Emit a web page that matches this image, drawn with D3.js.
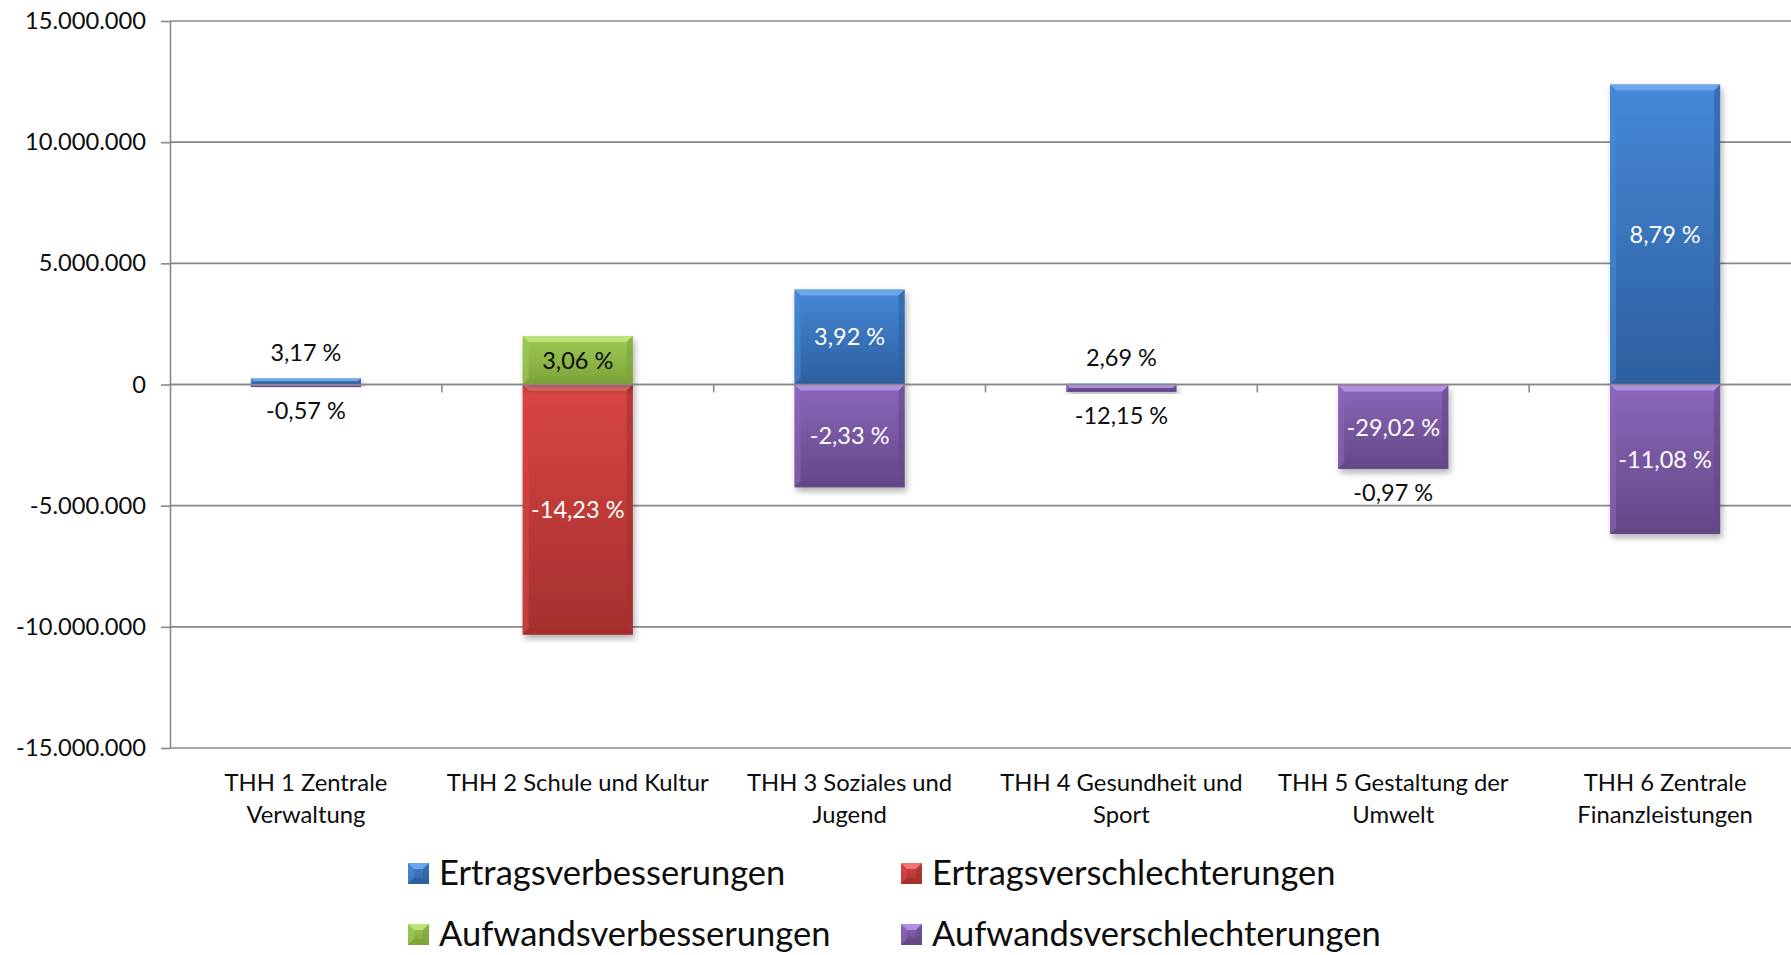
<!DOCTYPE html>
<html>
<head>
<meta charset="utf-8">
<script src="https://cdn.jsdelivr.net/npm/d3@7"></script>
<style>
    body { margin: 0; background: #fff; overflow: hidden; }
    svg text { font-family: Lato, "Open Sans", sans-serif; fill: #0d0d0d; }
</style>
</head>
<body>
<div id="chart_div"></div>
<script>
// categories (x axis) and their wrapped tick labels
var categories = ['THH 1', 'THH 2', 'THH 3', 'THH 4', 'THH 5', 'THH 6'];
var category_lines = [
    ['THH 1 Zentrale', 'Verwaltung'],
    ['THH 2 Schule und Kultur'],
    ['THH 3 Soziales und', 'Jugend'],
    ['THH 4 Gesundheit und', 'Sport'],
    ['THH 5 Gestaltung der', 'Umwelt'],
    ['THH 6 Zentrale', 'Finanzleistungen']
];

var series_names = ['Ertragsverbesserungen', 'Ertragsverschlechterungen', 'Aufwandsverbesserungen', 'Aufwandsverschlechterungen'];

// values in EUR
var ertragsverbesserungen = [250000, 0, 3920000, 30000, 0, 12380000];
var ertragsverschlechterungen = [0, -10320000, 0, 0, -40000, 0];
var aufwandsverbesserungen = [0, 2000000, 0, 0, 0, 0];
var aufwandsverschlechterungen = [-100000, 0, -4240000, -300000, -3440000, -6170000];

// percentage data labels
var ertragsverbesserungen_labels = ['3,17 %', null, '3,92 %', '2,69 %', null, '8,79 %'];
var ertragsverschlechterungen_labels = [null, '-14,23 %', null, null, '-0,97 %', null];
var aufwandsverbesserungen_labels = [null, '3,06 %', null, null, null, null];
var aufwandsverschlechterungen_labels = ['-0,57 %', null, '-2,33 %', '-12,15 %', '-29,02 %', '-11,08 %'];

var y_ticks = [-15000000, -10000000, -5000000, 0, 5000000, 10000000, 15000000];

function draw_chart() {
    var width = 1791, height = 955;
    var plot = {left: 170, right: 1801, top: 21, bottom: 748};

    var series_values = [ertragsverbesserungen, ertragsverschlechterungen, aufwandsverbesserungen, aufwandsverschlechterungen];
    var series_labels = [ertragsverbesserungen_labels, ertragsverschlechterungen_labels, aufwandsverbesserungen_labels, aufwandsverschlechterungen_labels];

    var colors = [
        {light: '#6fabf0', top: '#4688d6', bottom: '#2d5f9f', label: '#fff'},
        {light: '#f27b78', top: '#d94543', bottom: '#a4302e', label: '#fff'},
        {light: '#c3e67f', top: '#9ccb52', bottom: '#7da33a', label: '#0d0d0d'},
        {light: '#b693e6', top: '#8a67bb', bottom: '#644786', label: '#fff'}
    ];

    var table = categories.map(function(c, i) {
        var row = {category: c};
        series_names.forEach(function(s, k) { row[s] = series_values[k][i]; });
        return row;
    });

    var stacked = d3.stack()
        .keys(series_names)
        .offset(d3.stackOffsetDiverging)(table);

    var x_slot = d3.scaleBand()
        .domain(categories)
        .range([plot.left, plot.right]);

    var x = x_slot.copy()
        .paddingInner(0.595)
        .paddingOuter(0.2975);

    var y = d3.scaleLinear()
        .domain([-15000000, 15000000])
        .range([plot.bottom, plot.top]);

    var locale = d3.formatLocale({decimal: ',', thousands: '.', grouping: [3], currency: ['', ' €'], minus: '-'});
    var fmt = locale.format(',.0f');

    var svg = d3.select('#chart_div')
        .append('svg')
        .attr('width', width)
        .attr('height', height);

    var defs = svg.append('defs');

    var shadow = defs.append('filter')
        .attr('id', 'bar_shadow')
        .attr('x', '-20%').attr('y', '-20%')
        .attr('width', '150%').attr('height', '150%');
    shadow.append('feDropShadow')
        .attr('dx', 2).attr('dy', 4)
        .attr('stdDeviation', 3)
        .attr('flood-color', '#000')
        .attr('flood-opacity', 0.3);

    colors.forEach(function(c, k) {
        var g = defs.append('linearGradient')
            .attr('id', 'grad_' + k)
            .attr('x1', 0).attr('y1', 0)
            .attr('x2', 0).attr('y2', 1);
        g.append('stop').attr('offset', '0%').attr('stop-color', c.top);
        g.append('stop').attr('offset', '100%').attr('stop-color', c.bottom);
    });

    // gridlines
    svg.append('g')
        .selectAll('line')
        .data(y_ticks)
        .enter()
        .append('line')
        .attr('x1', plot.left)
        .attr('x2', plot.right)
        .attr('y1', d => y(d))
        .attr('y2', d => y(d))
        .attr('stroke', '#888')
        .attr('stroke-width', 1.6);

    // y axis
    var y_axis = svg.append('g')
        .attr('transform', `translate(${plot.left}, 0)`)
        .call(d3.axisLeft(y)
            .tickValues(y_ticks)
            .tickFormat(fmt)
            .tickSize(9)
            .tickSizeOuter(0)
            .tickPadding(15));
    y_axis.select('.domain').attr('stroke', '#888').attr('stroke-width', 1.6);
    y_axis.selectAll('.tick line').attr('stroke', '#888').attr('stroke-width', 1.6);
    y_axis.selectAll('.tick text')
        .style('font-size', '23.7px')
        .style('font-family', 'Lato, sans-serif')
        .attr('fill', '#0d0d0d');

    // bevelled bar segment
    function draw_segment(g, x0, y0, w, h, k) {
        var b = Math.min(6, h / 2, w / 2);
        var c = colors[k];
        g.append('rect')
            .attr('x', x0).attr('y', y0)
            .attr('width', w).attr('height', h)
            .attr('fill', `url(#grad_${k})`);
        // top highlight
        g.append('polygon')
            .attr('points', [[x0, y0], [x0 + w, y0], [x0 + w - b, y0 + b], [x0 + b, y0 + b]].join(' '))
            .attr('fill', c.light)
            .attr('opacity', 0.9);
        // sides
        g.append('polygon')
            .attr('points', [[x0, y0], [x0 + b, y0 + b], [x0 + b, y0 + h - b], [x0, y0 + h]].join(' '))
            .attr('fill', c.top)
            .attr('opacity', 0.6);
        g.append('polygon')
            .attr('points', [[x0 + w, y0], [x0 + w - b, y0 + b], [x0 + w - b, y0 + h - b], [x0 + w, y0 + h]].join(' '))
            .attr('fill', c.bottom)
            .attr('opacity', 0.6);
        // bottom shade
        g.append('polygon')
            .attr('points', [[x0, y0 + h], [x0 + w, y0 + h], [x0 + w - b, y0 + h - b], [x0 + b, y0 + h - b]].join(' '))
            .attr('fill', c.bottom)
            .attr('opacity', 0.9);
    }

    var bar_group = svg.append('g');
    stacked.forEach(function(layer, k) {
        layer.forEach(function(d) {
            var top = y(d[1]), bottom = y(d[0]);
            if (bottom - top <= 0) return;
            var g = bar_group.append('g').attr('filter', 'url(#bar_shadow)');
            draw_segment(g, x(d.data.category), top, x.bandwidth(), bottom - top, k);
        });
    });

    // zero line (category axis) above the bars, with ticks between categories
    svg.append('line')
        .attr('x1', plot.left).attr('x2', plot.right)
        .attr('y1', y(0)).attr('y2', y(0))
        .attr('stroke', '#888')
        .attr('stroke-width', 1.6);

    svg.append('g')
        .selectAll('line')
        .data(categories.slice(1))
        .enter()
        .append('line')
        .attr('x1', d => x_slot(d)).attr('x2', d => x_slot(d))
        .attr('y1', y(0)).attr('y2', y(0) + 8)
        .attr('stroke', '#888')
        .attr('stroke-width', 1.6);

    // data labels: centred in tall segments, outside the stack for thin ones
    var label_group = svg.append('g');
    stacked.forEach(function(layer, k) {
        layer.forEach(function(d, i) {
            var text = series_labels[k][i];
            if (!text) return;
            var top = y(d[1]), bottom = y(d[0]);
            var value = series_values[k][i];
            var ly, fill;
            if (bottom - top >= 30) {
                ly = (top + bottom) / 2;
                fill = colors[k].label;
            } else {
                var ends = stacked.map(s => s[i]);
                if (value >= 0) {
                    ly = y(d3.max(ends, e => e[1])) - 26;
                } else {
                    ly = y(d3.min(ends, e => e[0])) + 24;
                }
                fill = '#0d0d0d';
            }
            label_group.append('text')
                .attr('x', x(d.data.category) + x.bandwidth() / 2)
                .attr('y', ly)
                .attr('dy', '0.36em')
                .style('text-anchor', 'middle')
                .style('font-size', '23.5px')
                .style('fill', fill)
                .text(text);
        });
    });

    // category labels
    var cat_group = svg.append('g');
    categories.forEach(function(c, i) {
        var t = cat_group.append('text')
            .style('text-anchor', 'middle')
            .style('font-size', '23.8px')
            .attr('x', x_slot(c) + x_slot.bandwidth() / 2)
            .attr('y', 782)
            .attr('dy', '0.36em');
        category_lines[i].forEach(function(line, j) {
            t.append('tspan')
                .attr('x', x_slot(c) + x_slot.bandwidth() / 2)
                .attr('dy', j === 0 ? '0.36em' : 32)
                .text(line);
        });
    });

    // legend, two columns
    var legend = svg.append('g');
    series_names.forEach(function(name, k) {
        var lx = 408 + (k % 2) * 493;
        var ly = 873 + Math.floor(k / 2) * 61;
        var g = legend.append('g');
        draw_segment(g, lx, ly - 10, 21, 21, k);
        legend.append('text')
            .attr('x', lx + 31)
            .attr('y', ly)
            .attr('dy', '0.36em')
            .style('font-size', '34.5px')
            .text(name);
    });
}

document.addEventListener('DOMContentLoaded', draw_chart);
</script>
</body>
</html>
